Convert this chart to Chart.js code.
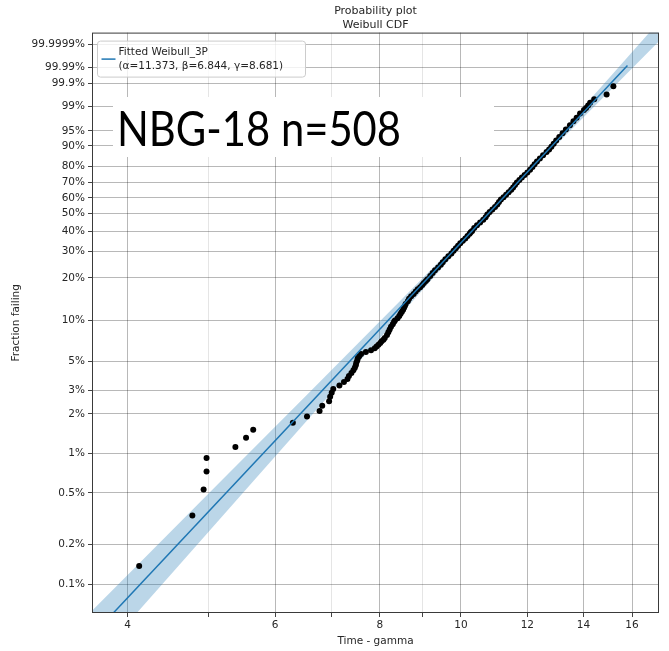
<!DOCTYPE html>
<html>
<head>
<meta charset="utf-8">
<script src="https://cdn.jsdelivr.net/npm/chart.js@4.4.1/dist/chart.umd.min.js"></script>
<style>
  html, body { margin: 0; padding: 0; background: #fff; }
  #wrap { width: 669px; height: 651px; position: relative; }
</style>
</head>
<body>
<div id="wrap"><canvas id="chart-canvas"></canvas></div>
<script>
const canvas = document.getElementById("chart-canvas");

// sample + failure data (time - gamma)
const sampleSize = 508;
const failureRanks = [
  1, 2, 3, 4, 5, 6, 7, 8, 9, 10, 11, 12, 13, 14, 15, 16, 17, 18, 19, 20,
  21, 22, 23, 24, 25, 26, 27, 28, 29, 30, 31, 32, 33, 34, 35, 36, 37, 38,
  40, 42, 44, 46, 48, 50, 51, 53, 55, 57, 59, 61, 63, 65, 67, 70, 73, 76,
  79, 82, 85, 88, 91, 94, 97, 100, 105, 110, 115, 120, 125, 130, 136, 142,
  148, 154, 160, 166, 172, 178, 184, 190, 196, 200, 204, 212, 220, 228,
  236, 244, 252, 260, 268, 276, 284, 292, 300, 308, 316, 324, 332, 340,
  348, 356, 364, 372, 380, 388, 396, 404, 412, 420, 428, 436, 444, 450,
  456, 462, 468, 474, 480, 485, 490, 494, 497, 500, 502, 503, 504, 505,
  506, 507, 508,
];
const failureTimes = [
  4.13, 4.78, 4.93, 4.97, 4.97, 5.38, 5.54, 5.65, 6.30, 6.55, 6.78, 6.83,
  6.96, 6.98, 7.01, 7.04, 7.16, 7.25, 7.32, 7.35, 7.40, 7.44, 7.47, 7.49,
  7.50, 7.52, 7.53, 7.56, 7.60, 7.70, 7.81, 7.89, 7.93, 7.97, 8.01, 8.04,
  8.08, 8.11, 8.16, 8.19, 8.22, 8.25, 8.29, 8.32, 8.34, 8.40, 8.44, 8.47,
  8.50, 8.53, 8.55, 8.57, 8.59, 8.64, 8.67, 8.72, 8.78, 8.83, 8.88, 8.94,
  8.99, 9.03, 9.08, 9.12, 9.19, 9.25, 9.31, 9.39, 9.46, 9.51, 9.58, 9.66,
  9.74, 9.80, 9.86, 9.92, 9.98, 10.05, 10.12, 10.18, 10.24, 10.27, 10.31,
  10.37, 10.45, 10.54, 10.63, 10.70, 10.75, 10.82, 10.90, 10.98, 11.05,
  11.10, 11.16, 11.24, 11.32, 11.40, 11.48, 11.54, 11.60, 11.66, 11.74,
  11.82, 11.91, 12.00, 12.09, 12.17, 12.24, 12.32, 12.42, 12.53, 12.65,
  12.74, 12.82, 12.90, 12.99, 13.10, 13.22, 13.34, 13.49, 13.62, 13.74,
  13.87, 14.02, 14.10, 14.18, 14.26, 14.42, 14.92, 15.20,
];

// fitted Weibull_3P
const fitAlpha = 11.373;
const fitBeta = 6.844;
const fitGamma = 8.681;
const fitLineTimes = [3.4, 15.8];

// confidence band edges (time - gamma) at a few fraction-failing levels
const bandFractions = [0.00041, 0.001502, 0.006715, 0.029746, 0.126576, 0.307799, 0.632121, 0.934012, 0.999382, 0.9999999981];
const bandLowerTimes = [3.399, 4.157, 5.243, 6.613, 8.338, 9.727, 11.311, 13.026, 14.959, 17.167];
const bandUpperTimes = [3.894, 4.656, 5.723, 7.034, 8.647, 9.929, 11.436, 13.297, 15.514, 18.107];

// axes
const xMajorTicks = [4, 6, 8, 10, 12, 14, 16];
const xMinorTicks = [5, 7, 9];
const yTickPercents = [0.1, 0.2, 0.5, 1, 2, 3, 5, 10, 20, 30, 40, 50, 60, 70, 80, 90, 95, 99, 99.9, 99.99, 99.9999];
const xLimits = [3.628, 17.23];
const yLimits = [-7.419, 2.833]; // ln(-ln(1-F))

const tx = (t) => Math.log(t);
const ty = (F) => Math.log(-Math.log(1 - F));

const blue = "#1f77b4";
const font = "DejaVu Sans";
const textColor = "#262626";

const points = failureRanks.map((r, i) => ({
  x: tx(failureTimes[i]),
  y: ty((r - 0.3) / (sampleSize + 0.4)),
}));

const fitLine = fitLineTimes.map((t) => ({
  x: tx(t),
  y: fitBeta * Math.log(t / fitAlpha),
}));

const bandShape = bandFractions
  .map((F, i) => ({ x: tx(bandLowerTimes[i]), y: ty(F) }))
  .concat(
    bandFractions
      .map((F, i) => ({ x: tx(bandUpperTimes[i]), y: ty(F) }))
      .reverse()
  );

const overlayPlugin = {
  id: "overlay",
  afterDatasetsDraw(chart) {
    const { ctx, chartArea } = chart;
    ctx.save();

    // pasted label box
    ctx.fillStyle = "#ffffff";
    ctx.fillRect(113, 97, 381, 60);
    ctx.fillStyle = "#000000";
    ctx.font = "49px Lato";
    ctx.textBaseline = "alphabetic";
    ctx.textAlign = "left";
    ctx.fillText("NBG-18 n=" + sampleSize, 117, 146, 284);

    // legend
    const lx = chartArea.left + 5.5;
    const ly = chartArea.top + 8.5;
    ctx.fillStyle = "rgba(255,255,255,0.8)";
    ctx.strokeStyle = "#cccccc";
    ctx.lineWidth = 1;
    ctx.beginPath();
    ctx.roundRect(lx, ly, 208, 36, 3);
    ctx.fill();
    ctx.stroke();
    ctx.strokeStyle = blue;
    ctx.lineWidth = 1.5;
    ctx.beginPath();
    ctx.moveTo(lx + 4, ly + 18);
    ctx.lineTo(lx + 18, ly + 18);
    ctx.stroke();
    ctx.fillStyle = textColor;
    ctx.font = "10.5px '" + font + "'";
    ctx.textBaseline = "middle";
    ctx.fillText("Fitted Weibull_3P", lx + 21, ly + 11);
    ctx.fillText(
      "(\u03b1=" + fitAlpha + ", \u03b2=" + fitBeta + ", \u03b3=" + fitGamma + ")",
      lx + 21,
      ly + 25
    );

    // frame
    ctx.strokeStyle = "#3a3a3a";
    ctx.lineWidth = 1;
    ctx.strokeRect(
      chartArea.left + 0.5,
      chartArea.top + 0.5,
      chartArea.right - chartArea.left - 1,
      chartArea.bottom - chartArea.top - 1
    );
    ctx.restore();
  },
};

const gridColor = (context) =>
  context.tick && context.tick.isMinor ? "rgba(0,0,0,0.1)" : "rgba(0,0,0,0.28)";

new Chart(canvas, {
  type: "scatter",
  data: {
    datasets: [
      {
        data: fitLine,
        showLine: true,
        borderColor: blue,
        borderWidth: 1.5,
        pointRadius: 0,
        fill: false,
        order: 1,
      },
      {
        data: points,
        backgroundColor: "#000000",
        borderWidth: 0,
        pointRadius: 3,
        order: 2,
      },
      {
        data: bandShape,
        showLine: true,
        borderWidth: 0,
        pointRadius: 0,
        fill: "shape",
        backgroundColor: "rgba(31,119,180,0.3)",
        order: 3,
      },
    ],
  },
  options: {
    responsive: true,
    maintainAspectRatio: false,
    animation: false,
    events: [],
    layout: { padding: { left: 0, right: 10, top: 0, bottom: 0 } },
    scales: {
      x: {
        type: "linear",
        min: tx(xLimits[0]),
        max: tx(xLimits[1]),
        afterBuildTicks: (scale) => {
          const ticks = xMajorTicks
            .map((v) => ({ value: tx(v), lbl: String(v), isMinor: false }))
            .concat(xMinorTicks.map((v) => ({ value: tx(v), lbl: "", isMinor: true })));
          ticks.sort((a, b) => a.value - b.value);
          scale.ticks = ticks;
        },
        afterFit: (scale) => {
          scale.height = 38;
        },
        ticks: {
          autoSkip: false,
          maxRotation: 0,
          padding: 2,
          color: textColor,
          font: { family: font, size: 10.5 },
          callback: (value, index, ticks) => ticks[index].lbl,
        },
        grid: {
          color: gridColor,
          lineWidth: 1,
          drawTicks: true,
          tickLength: 4,
          tickColor: "#444",
        },
        border: { display: false },
        title: {
          display: true,
          text: "Time - gamma",
          color: textColor,
          font: { family: font, size: 10.5 },
          padding: { top: 0, bottom: 3 },
        },
      },
      y: {
        type: "linear",
        min: yLimits[0],
        max: yLimits[1],
        afterBuildTicks: (scale) => {
          scale.ticks = yTickPercents.map((p) => ({
            value: ty(p / 100),
            lbl: p + "%",
            isMinor: false,
          }));
        },
        afterFit: (scale) => {
          scale.width = 92;
        },
        ticks: {
          autoSkip: false,
          padding: 3,
          color: textColor,
          font: { family: font, size: 10.5 },
          callback: (value, index, ticks) => ticks[index].lbl,
        },
        grid: {
          color: gridColor,
          lineWidth: 1,
          drawTicks: true,
          tickLength: 4,
          tickColor: "#444",
        },
        border: { display: false },
        title: {
          display: true,
          text: "Fraction failing",
          color: textColor,
          font: { family: font, size: 10.5 },
          padding: { top: 10, bottom: 0 },
        },
      },
    },
    plugins: {
      legend: { display: false },
      tooltip: { enabled: false },
      title: {
        display: true,
        text: ["Probability plot", "Weibull CDF"],
        fullSize: false,
        color: textColor,
        font: { family: font, size: 11, weight: "normal", lineHeight: 1.3 },
        padding: { top: 4, bottom: 0 },
      },
    },
  },
  plugins: [overlayPlugin],
});
</script>
</body>
</html>
